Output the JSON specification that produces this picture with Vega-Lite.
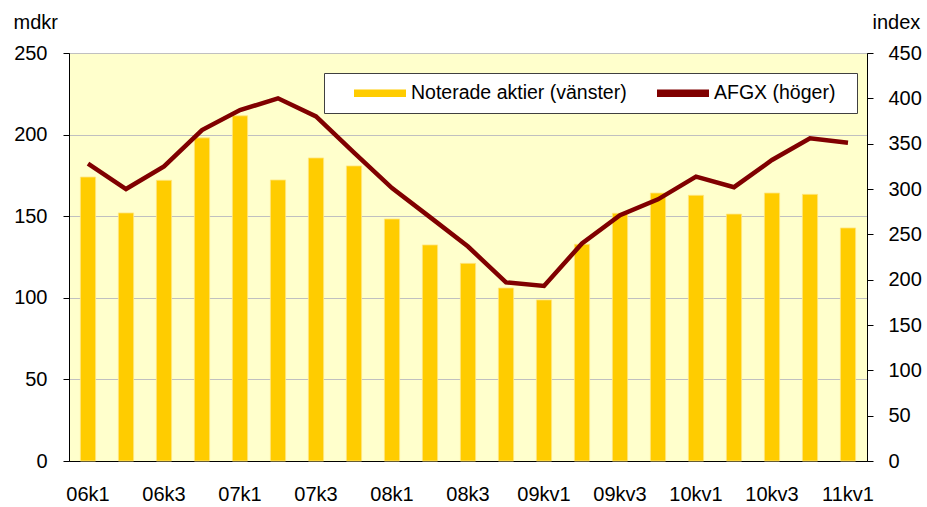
{
  "$schema": "https://vega.github.io/schema/vega-lite/v6.json",
  "width": 798,
  "height": 408,
  "autosize": {"type": "none"},
  "padding": {"left": 69, "top": 53, "right": 60, "bottom": 46},
  "background": "white",
  "config": {
    "font": "Liberation Sans",
    "view": {"stroke": "black", "strokeWidth": 1, "fill": "#FFFFCC"},
    "axis": {"labelFont": "Liberation Sans", "labelFontSize": 20, "labelColor": "black", "titleFont": "Liberation Sans", "titleFontSize": 20, "titleFontWeight": "normal", "titleColor": "black", "domainColor": "black", "tickColor": "black"},
    "legend": {
      "symbolType": "M1,-0.38H6.2V0.38H1Z",
      "symbolSize": 400,
      "labelFont": "Liberation Sans",
      "labelFontSize": 19.5,
      "labelColor": "black",
      "labelLimit": 500,
      "labelOffset": 57,
      "symbolStrokeWidth": 0
    }
  },
  "data": {
    "values": [
      {"q": "06k1", "aktier": 174, "afgx": 328},
      {"q": "06k2", "aktier": 152, "afgx": 300},
      {"q": "06k3", "aktier": 172, "afgx": 325},
      {"q": "06k4", "aktier": 198, "afgx": 365},
      {"q": "07k1", "aktier": 211.5, "afgx": 387},
      {"q": "07k2", "aktier": 172.2, "afgx": 400},
      {"q": "07k3", "aktier": 185.7, "afgx": 380},
      {"q": "07k4", "aktier": 180.8, "afgx": 340},
      {"q": "08k1", "aktier": 148.3, "afgx": 301},
      {"q": "08k2", "aktier": 132.4, "afgx": 269},
      {"q": "08k3", "aktier": 121.1, "afgx": 236.5},
      {"q": "08k4", "aktier": 106, "afgx": 197},
      {"q": "09kv1", "aktier": 98.7, "afgx": 193},
      {"q": "09kv2", "aktier": 132.8, "afgx": 240},
      {"q": "09kv3", "aktier": 151.8, "afgx": 271},
      {"q": "09kv4", "aktier": 164.2, "afgx": 288.6},
      {"q": "10kv1", "aktier": 162.8, "afgx": 313.6},
      {"q": "10kv2", "aktier": 151.3, "afgx": 302},
      {"q": "10kv3", "aktier": 164.2, "afgx": 332},
      {"q": "10kv4", "aktier": 163.4, "afgx": 356},
      {"q": "11kv1", "aktier": 142.8, "afgx": 351}
    ]
  },
  "encoding": {
    "x": {
      "field": "q",
      "type": "ordinal",
      "sort": null,
      "scale": {"paddingInner": 0.6, "paddingOuter": 0.3},
      "axis": {
        "title": null,
        "labelAngle": 0,
        "ticks": false,
        "labelPadding": 23,
        "grid": false,
        "values": ["06k1", "06k3", "07k1", "07k3", "08k1", "08k3", "09kv1", "09kv3", "10kv1", "10kv3", "11kv1"]
      }
    }
  },
  "layer": [
    {
      "mark": {"type": "bar", "stroke": "#FFE680", "strokeWidth": 0.8},
      "encoding": {
        "y": {
          "field": "aktier",
          "type": "quantitative",
          "scale": {"domain": [0, 250], "nice": false},
          "axis": {
            "title": "mdkr",
            "titleAngle": 0,
            "titleAlign": "left",
            "titleBaseline": "alphabetic",
            "titleX": -56,
            "titleY": -25,
            "values": [0, 50, 100, 150, 200, 250],
            "tickSize": 6,
            "labelPadding": 16,
            "grid": true,
            "gridColor": "#C0C0C0",
            "gridWidth": 1
          }
        },
        "color": {
          "datum": "Noterade aktier (vänster)",
          "type": "nominal",
          "scale": {"domain": ["Noterade aktier (vänster)", "AFGX (höger)"], "range": ["#FFCC00", "#800000"]},
          "legend": {
            "title": null,
            "orient": "none",
            "legendX": 255,
            "legendY": 20,
            "direction": "horizontal",
            "fillColor": "white",
            "strokeColor": "#404040",
            "padding": 10,
            "columnPadding": 10,
            "symbolType": "M1,-0.38H6.2V0.38H1Z",
            "labelExpr": "datum.label == 'AFGX (höger)' ? datum.label + '\u00a0\u00a0\u200b' : datum.label"
          }
        }
      }
    },
    {
      "mark": {"type": "line", "strokeWidth": 4.5, "strokeJoin": "miter"},
      "encoding": {
        "y": {
          "field": "afgx",
          "type": "quantitative",
          "scale": {"domain": [0, 450], "nice": false},
          "axis": {
            "orient": "right",
            "title": "index",
            "titleAngle": 0,
            "titleAlign": "left",
            "titleBaseline": "alphabetic",
            "titleX": 5,
            "titleY": -25,
            "values": [0, 50, 100, 150, 200, 250, 300, 350, 400, 450],
            "tickSize": 6,
            "labelPadding": 15,
            "grid": false
          }
        },
        "color": {"datum": "AFGX (höger)", "type": "nominal"}
      }
    }
  ],
  "resolve": {"scale": {"y": "independent"}}
}
